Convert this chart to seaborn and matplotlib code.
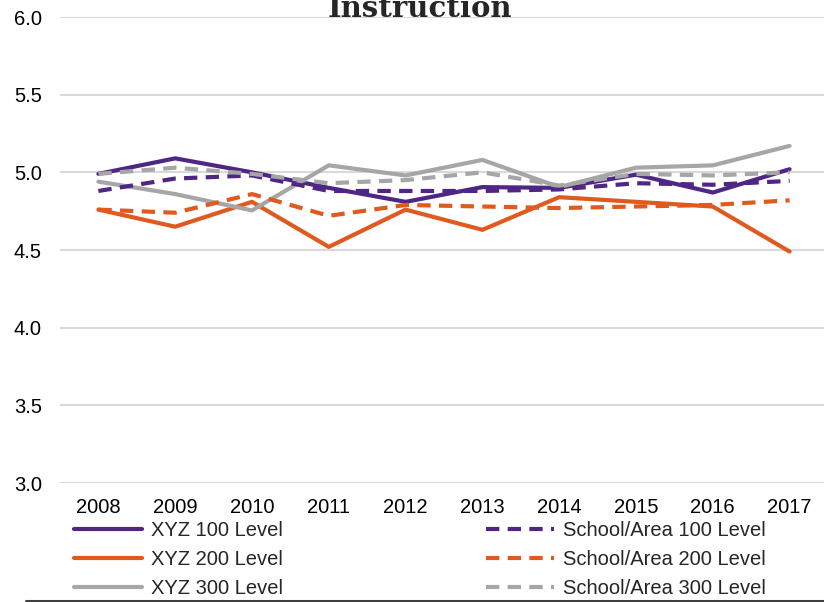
import matplotlib.pyplot as plt
import matplotlib.lines as mlines
import seaborn as sns
import pandas as pd

# data
years = ['2008', '2009', '2010', '2011', '2012', '2013', '2014', '2015', '2016', '2017']
xyz_100 = [4.99, 5.09, 5.00, 4.90, 4.81, 4.905, 4.90, 4.985, 4.87, 5.02]
xyz_200 = [4.76, 4.65, 4.81, 4.52, 4.76, 4.63, 4.84, 4.81, 4.78, 4.49]
xyz_300 = [4.94, 4.86, 4.755, 5.045, 4.98, 5.08, 4.905, 5.03, 5.045, 5.17]
school_100 = [4.88, 4.96, 4.98, 4.88, 4.88, 4.88, 4.89, 4.93, 4.92, 4.945]
school_200 = [4.76, 4.74, 4.86, 4.72, 4.79, 4.78, 4.77, 4.78, 4.79, 4.82]
school_300 = [4.99, 5.03, 4.99, 4.93, 4.95, 5.00, 4.915, 4.99, 4.98, 5.00]

purple = '#4F2683'
orange = '#E0591F'
grey = '#A6A6A6'

sns.set_style("white")
plt.rcParams['font.family'] = ['Liberation Sans', 'DejaVu Sans']

fig = plt.figure(figsize=(8.24, 6.02), dpi=100)
ax = fig.add_axes([60/824, 119/602, 768/824, 466/602])

df = pd.DataFrame({'year': years})
series = [
    ('XYZ 100 Level', xyz_100, purple, '-'),
    ('XYZ 200 Level', xyz_200, orange, '-'),
    ('XYZ 300 Level', xyz_300, grey, '-'),
    ('School/Area 100 Level', school_100, purple, '--'),
    ('School/Area 200 Level', school_200, orange, '--'),
    ('School/Area 300 Level', school_300, grey, '--'),
]
handles = []
for name, vals, col, ls in series:
    df[name] = vals
    sns.lineplot(data=df, x='year', y=name, ax=ax, color=col, linewidth=3,
                 sort=False, label=name)
    ln = ax.lines[-1]
    if ls == '--':
        ln.set_dashes((3.2, 2.0))
    handles.append(ln)
ax.get_legend().remove()

ax.set_ylim(3.0, 6.0)
ax.set_xlim(-0.5, 9.5)
ax.set_yticks([3.0, 3.5, 4.0, 4.5, 5.0, 5.5, 6.0])
ax.set_yticklabels(['3.0', '3.5', '4.0', '4.5', '5.0', '5.5', '6.0'])
ax.set_xlabel('')
ax.set_ylabel('')
ax.tick_params(axis='both', length=0, labelsize=14.5, colors='black')
ax.tick_params(axis='y', pad=13)
ax.tick_params(axis='x', pad=11)
ax.grid(axis='y', color='#D9D9D9', linewidth=1.5)
ax.set_axisbelow(True)
for s in ax.spines.values():
    s.set_visible(False)

# title, cut off at the top as in the original
fig.text(419.5/824, (602-17)/602, 'Instruction', ha='center', va='baseline',
         fontsize=21, fontweight='bold', family='DejaVu Serif')

# two legend columns
def make_legend(hs, x):
    lines = [mlines.Line2D([], [], color=h.get_color(), linewidth=3,
                           linestyle=h.get_linestyle()) for h in hs]
    for l, h in zip(lines, hs):
        if h.get_linestyle() == '--':
            l.set_dashes((3.2, 2.0))
    return fig.legend(lines, [h.get_label() for h in hs], loc='upper left',
                      bbox_to_anchor=(x/824, (602-521)/602), frameon=False,
                      fontsize=14.5, handlelength=3.4, handletextpad=0.4,
                      borderpad=0, borderaxespad=0, labelspacing=0.5)

make_legend(handles[:3], 74)
make_legend(handles[3:], 486)

fig.add_artist(mlines.Line2D([26/824, 1.0], [1.3/602, 1.3/602], color='#404040',
                             linewidth=2.2, transform=fig.transFigure))

fig.savefig('out.png', dpi=100)
